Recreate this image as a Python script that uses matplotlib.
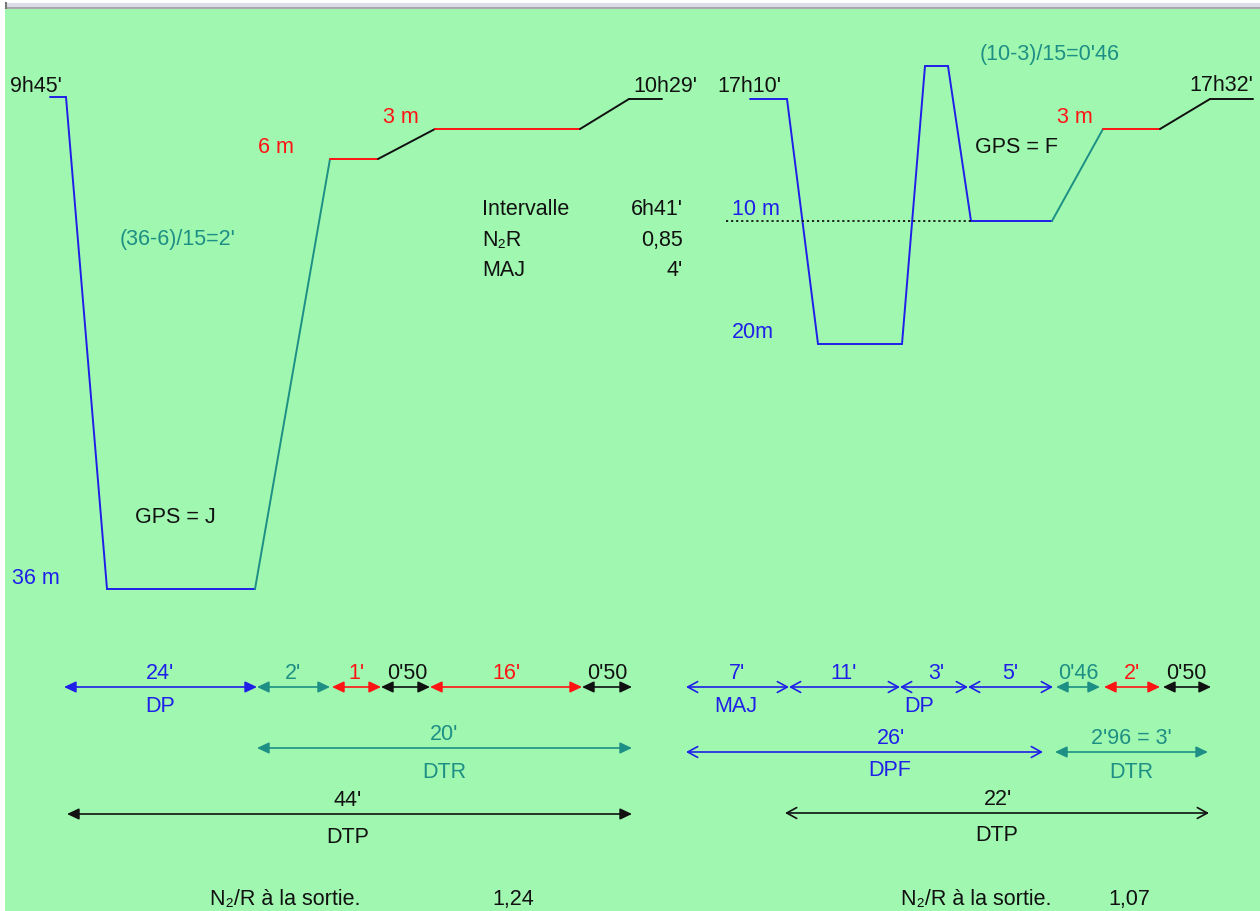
import matplotlib
matplotlib.use("Agg")
import matplotlib.pyplot as plt
from matplotlib.patches import Rectangle

plt.rcParams['font.family'] = ['Liberation Sans', 'DejaVu Sans']

BG = '#a0f8b0'
BLUE = '#1f1fe8'
TEAL = '#1e8f84'
RED = '#ff1414'
BLACK = '#111111'
FS = 15.5

# ---- dive profiles (schematic positions: x = run of the dive, y = drawn depth level)
dive1_x = [50, 66, 107, 255, 330, 378, 435, 580, 629, 662]
dive1_y = [98, 98, 590, 590, 160, 160, 130, 130, 100, 100]
dive1_col = [BLUE, BLUE, BLUE, TEAL, RED, BLACK, RED, BLACK, BLACK]

dive2_x = [750, 787, 818, 902, 925, 948, 971, 1052, 1103, 1160, 1210, 1253]
dive2_y = [100, 100, 345, 345, 67, 67, 222, 222, 130, 130, 100, 100]
dive2_col = [BLUE] * 7 + [TEAL, RED, BLACK, BLACK]

# 10 m reference line of the second dive
ref_x = [726, 971]
ref_y = [222, 222]

# ---- annotations on the profiles
labels = ["9h45'", "10h29'", "6 m", "3 m", "(36-6)/15=2'",
          "Intervalle", "6h41'", "N\u2082R", "0,85", "MAJ", "4'",
          "GPS = J", "36 m",
          "17h10'", "17h32'", "10 m", "20m", "(10-3)/15=0'46", "GPS = F", "3 m",
          "N\u2082/R à la sortie.", "1,24", "N\u2082/R à la sortie.", "1,07"]
labels_x = [10, 697, 258, 383, 120,
            482, 683, 482, 683, 482, 683,
            135, 12,
            717, 1253, 732, 732, 980, 975, 1057,
            210, 492, 901, 1108]
labels_y = [92, 92, 153, 123, 245,
            215, 215, 246, 246, 276, 276,
            523, 584,
            92, 91, 215, 338, 60, 153, 123,
            905, 905, 905, 905]
labels_col = [BLACK, BLACK, RED, RED, TEAL,
              BLACK, BLACK, BLACK, BLACK, BLACK, BLACK,
              BLACK, BLUE,
              BLACK, BLACK, BLUE, BLUE, TEAL, BLACK, RED,
              BLACK, BLACK, BLACK, BLACK]
labels_ha = ['left', 'right', 'left', 'left', 'left',
             'left', 'right', 'left', 'right', 'left', 'right',
             'left', 'left',
             'left', 'right', 'left', 'left', 'left', 'left', 'left',
             'left', 'left', 'left', 'left']

# ---- duration arrows
arr_x0 = [64, 257, 332, 381, 430, 582, 257, 67,
          686, 789, 900, 968, 1056, 1104, 1163, 686, 1055, 785]
arr_x1 = [257, 330, 381, 430, 582, 632, 632, 632,
          789, 900, 968, 1053, 1100, 1160, 1211, 1043, 1208, 1209]
arr_y = [688, 688, 688, 688, 688, 688, 749, 815,
         688, 688, 688, 688, 688, 688, 688, 753, 753, 814]
arr_col = [BLUE, TEAL, RED, BLACK, RED, BLACK, TEAL, BLACK,
           BLUE, BLUE, BLUE, BLUE, TEAL, RED, BLACK, BLUE, TEAL, BLACK]
arr_open = [False] * 8 + [True, True, True, True, False, False, False, True, False, True]
arr_text = ["24'", "2'", "1'", "0'50", "16'", "0'50", "20'", "44'",
            "7'", "11'", "3'", "5'", "0'46", "2'", "0'50", "26'", "2'96 = 3'", "22'"]
arr_text_x = [160, 293, 356, 407, 506, 607, 444, 348,
              737, 844, 936, 1010, 1078, 1132, 1186, 891, 1131, 998]

under_text = ["DP", "DTR", "DTP", "MAJ", "DP", "DPF", "DTR", "DTP"]
under_x = [160, 444, 348, 736, 919, 890, 1131, 997]
under_y = [712, 778, 843, 712, 712, 776, 778, 841]
under_col = [BLUE, TEAL, BLACK, BLUE, BLUE, BLUE, TEAL, BLACK]

fig = plt.figure(figsize=(12.6, 9.12), dpi=100, facecolor='white')
ax = fig.add_axes([0, 0, 1, 1])
ax.set_xlim(0, 1260)
ax.set_ylim(912, 0)
ax.axis('off')

# window frame + green canvas
ax.add_patch(Rectangle((5, 9.5), 1260, 910, color=BG, lw=0))
ax.add_patch(Rectangle((5, 4), 1260, 4.5, color='#dcdce8', lw=0))
ax.plot([5, 1260], [9, 9], color='#9a9a9a', lw=1.2, solid_capstyle='butt')
ax.plot([5.5, 5.5], [4, 9], color='#777777', lw=1.5)

for xs, ys, cols in [(dive1_x, dive1_y, dive1_col), (dive2_x, dive2_y, dive2_col)]:
    for i, c in enumerate(cols):
        ax.plot(xs[i:i + 2], ys[i:i + 2], color=c, lw=1.4, solid_capstyle='round')

ax.plot(ref_x, ref_y, color=BLACK, lw=1.3, linestyle=(0, (1.2, 1.6)))

for t, x, y, c, ha in zip(labels, labels_x, labels_y, labels_col, labels_ha):
    ax.text(x, y, t, color=c, ha=ha, va='baseline', fontsize=FS)

for x0, x1, y, c, op, t, tx in zip(arr_x0, arr_x1, arr_y, arr_col, arr_open,
                                   arr_text, arr_text_x):
    style = '<->,head_length=0.55,head_width=0.3' if op else '<|-|>,head_length=0.55,head_width=0.26'
    ax.annotate('', xy=(x1, y), xytext=(x0, y),
                arrowprops=dict(arrowstyle=style, color=c, lw=1.2,
                                mutation_scale=13, shrinkA=0, shrinkB=0))
    ax.text(tx, y - 9, t, color=c, ha='center', va='baseline', fontsize=FS)

for t, x, y, c in zip(under_text, under_x, under_y, under_col):
    ax.text(x, y, t, color=c, ha='center', va='baseline', fontsize=FS)

fig.savefig('out.png', dpi=100, facecolor='white')
